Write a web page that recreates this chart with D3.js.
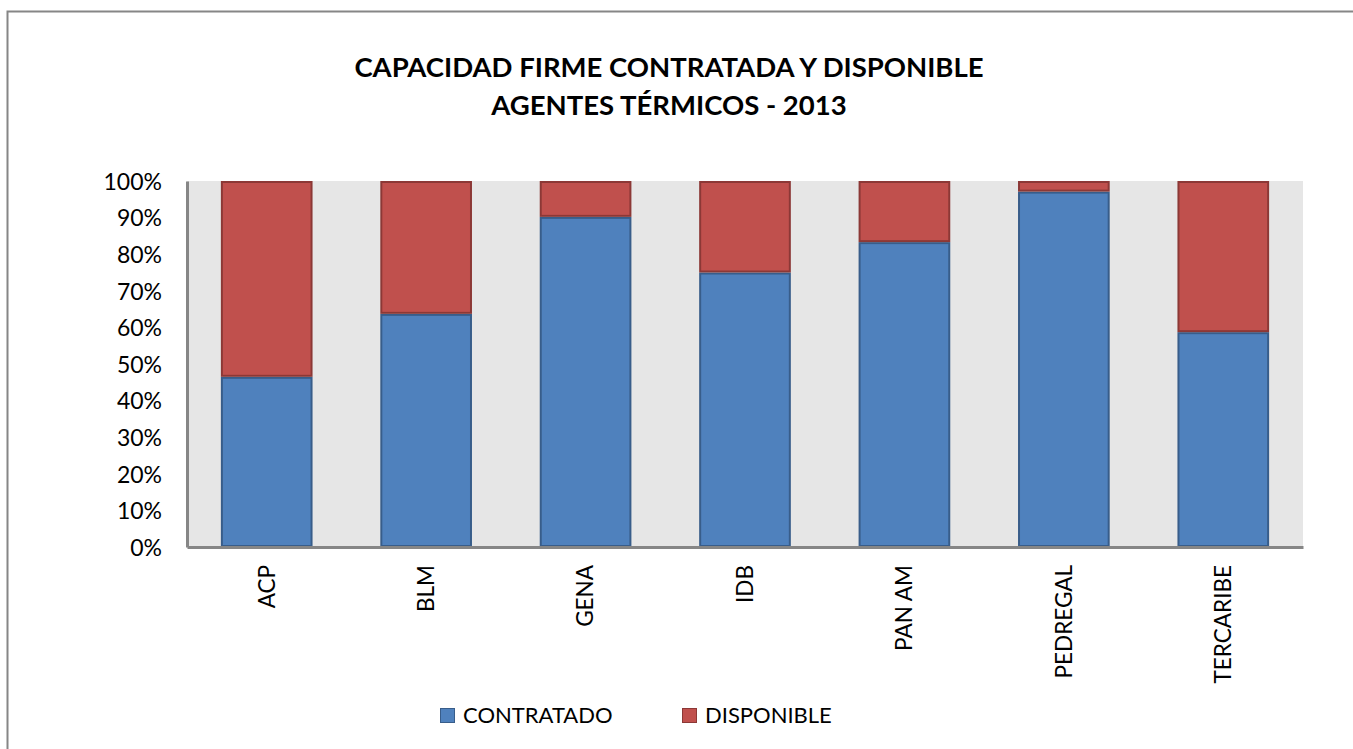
<!DOCTYPE html>
<html>
<head>
<meta charset="utf-8">
<script src="https://cdn.jsdelivr.net/npm/d3@7"></script>
<style>
  body { margin: 0; background: #fff; }
  text { font-family: Lato, "Open Sans", sans-serif; fill: #000; }
</style>
</head>
<body>
<div class="chart"></div>
<script>
// chart data
const agentes = ["ACP", "BLM", "GENA", "IDB", "PAN AM", "PEDREGAL", "TERCARIBE"];
const contratado = [46.5, 63.7, 90.2, 75.0, 83.3, 97.1, 58.7];
const disponible = [53.5, 36.3, 9.8, 25.0, 16.7, 2.9, 41.3];
const series = ["CONTRATADO", "DISPONIBLE"];
const yTicks = [0, 10, 20, 30, 40, 50, 60, 70, 80, 90, 100];
const titleLines = ["CAPACIDAD FIRME CONTRATADA Y DISPONIBLE", "AGENTES TÉRMICOS - 2013"];

const svgWidth = 1353;
const svgHeight = 749;
const margin = { top: 181, left: 187, right: 50, bottom: 202 };
const width = svgWidth - margin.left - margin.right;
const height = svgHeight - margin.top - margin.bottom;

const fills = { CONTRATADO: "#4f81bd", DISPONIBLE: "#c0504d" };
const strokes = { CONTRATADO: "#385d8a", DISPONIBLE: "#8c3836" };

const svg = d3.select(".chart")
    .append("svg")
    .attr("width", svgWidth)
    .attr("height", svgHeight);

// outer chart border (left + top visible)
svg.append("path")
    .attr("d", `M7.5,${svgHeight} V11.5 H${svgWidth}`)
    .attr("fill", "none")
    .attr("stroke", "#868686")
    .attr("stroke-width", 2);

// title
svg.append("text")
    .attr("x", 669)
    .attr("y", 77)
    .attr("text-anchor", "middle")
    .style("font-weight", "bold")
    .style("font-size", "27.5px")
    .text(titleLines[0]);
svg.append("text")
    .attr("x", 669)
    .attr("y", 115)
    .attr("text-anchor", "middle")
    .style("font-weight", "bold")
    .style("font-size", "27.5px")
    .text(titleLines[1]);

const chartGroup = svg.append("g")
    .attr("transform", `translate(${margin.left}, ${margin.top})`);

const x = d3.scaleBand()
    .domain(agentes)
    .range([0, width])
    .paddingInner(0.425)
    .paddingOuter(0.2125);

const y = d3.scaleLinear()
    .domain([0, 100])
    .range([height, 0]);

chartGroup.append("rect")
    .attr("width", width)
    .attr("height", height)
    .attr("fill", "#e6e6e6");

const rows = agentes.map((a, i) => ({ agente: a, CONTRATADO: contratado[i], DISPONIBLE: disponible[i] }));
const stacked = d3.stack().keys(series)(rows);

chartGroup.selectAll("g.serie")
    .data(stacked)
    .enter()
    .append("g")
    .attr("class", "serie")
    .attr("fill", d => fills[d.key])
    .attr("stroke", d => strokes[d.key])
    .attr("stroke-width", 2)
    .selectAll("rect")
    .data(d => d)
    .enter()
    .append("rect")
    .attr("x", d => x(d.data.agente) + 1)
    .attr("y", d => y(d[1]) + 1)
    .attr("width", x.bandwidth() - 2)
    .attr("height", d => y(d[0]) - y(d[1]) - 2);

// y axis
const leftAxis = d3.axisLeft(y)
    .tickValues(yTicks)
    .tickSize(0)
    .tickPadding(25)
    .tickFormat(d => d + "%");
const yAxis = chartGroup.append("g").call(leftAxis);
yAxis.select(".domain").attr("stroke", "#868686").attr("stroke-width", 3);
yAxis.selectAll("text")
    .style("font-size", "23px")
    .style("font-family", "Lato, sans-serif")
    .attr("dy", "0.36em");

// x axis
const bottomAxis = d3.axisBottom(x).tickSize(0).tickPadding(0);
const xAxis = chartGroup.append("g")
    .attr("transform", `translate(0, ${height})`)
    .call(bottomAxis);
xAxis.select(".domain").attr("stroke", "#868686").attr("stroke-width", 3);
xAxis.selectAll("text")
    .style("font-size", "22.5px")
    .style("font-family", "Lato, sans-serif")
    .attr("transform", "rotate(-90)")
    .attr("text-anchor", "end")
    .attr("x", -18)
    .attr("y", 0)
    .attr("dy", "0.35em");

// legend
const legendX = [440, 682];
const legend = svg.selectAll("g.legend")
    .data(series)
    .enter()
    .append("g")
    .attr("class", "legend")
    .attr("transform", (d, i) => `translate(${legendX[i]}, 708)`);
legend.append("rect")
    .attr("x", 0.5)
    .attr("y", 0.5)
    .attr("width", 14)
    .attr("height", 14)
    .attr("fill", d => fills[d])
    .attr("stroke", d => strokes[d]);
legend.append("text")
    .attr("x", 23)
    .attr("y", 15)
    .style("font-size", "22px")
    .text(d => d);
</script>
</body>
</html>
